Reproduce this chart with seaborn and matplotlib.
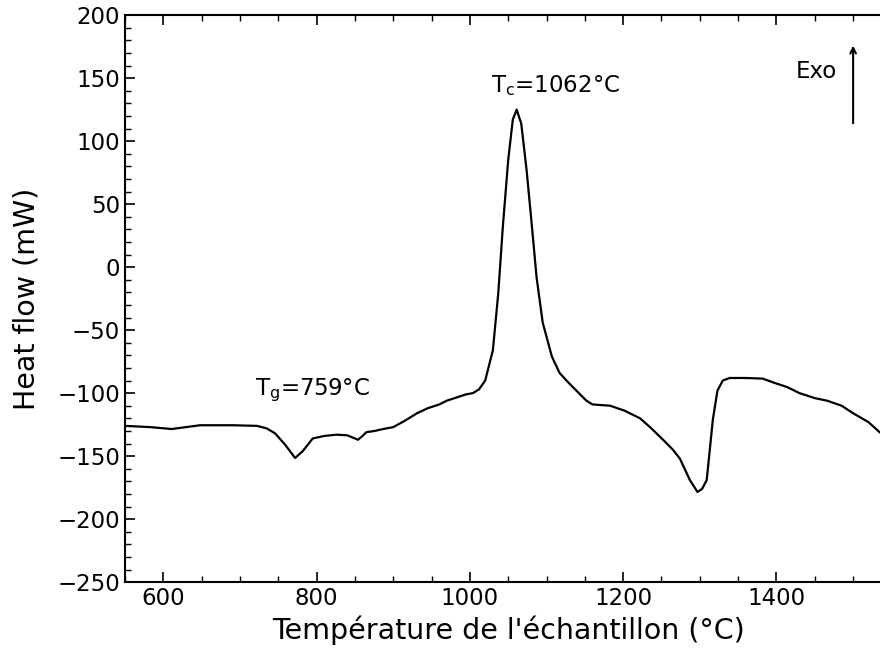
import pandas as pd
import matplotlib.pyplot as plt
import seaborn as sns
from matplotlib.ticker import MultipleLocator

sns.set_style("ticks")
plt.rcParams["font.family"] = ["DejaVu Sans"]
plt.rcParams["text.color"] = "black"
plt.rcParams["axes.labelcolor"] = "black"
plt.rcParams["xtick.color"] = "black"
plt.rcParams["ytick.color"] = "black"
plt.rcParams["axes.edgecolor"] = "black"

# Courbe DSC
temperature = [550, 583, 611, 648, 690, 722, 735, 746, 759, 772, 782, 795, 810,
               826, 840, 854, 860, 865, 876, 887, 900, 915, 931, 945, 960, 970,
               985, 995, 1004, 1012, 1020, 1030, 1037, 1043, 1050, 1056, 1061,
               1067, 1074, 1081, 1087, 1095, 1107, 1117, 1126, 1134, 1152, 1160,
               1183, 1202, 1222, 1235, 1252, 1265, 1274, 1287, 1297, 1303, 1309,
               1317, 1323, 1330, 1339, 1360, 1382, 1398, 1413, 1420, 1430, 1450,
               1466, 1485, 1500, 1520, 1540]
heat_flow = [-126, -127, -128.5, -125.5, -125.5, -126, -128, -132, -141, -151.5,
             -146, -136, -134, -133, -133.5, -137, -134, -131, -130, -128.5,
             -127, -122, -116, -112, -109, -106, -103, -101, -100, -97, -90, -66,
             -21, 32, 85, 117, 125, 114, 77, 32, -8, -44, -71, -84, -90, -95,
             -106, -109, -110, -114, -120, -127, -137, -145, -152, -169, -178.5,
             -176, -169, -121, -98, -90, -88, -88, -88.5, -92, -95, -97, -100,
             -104, -106, -110, -116, -123, -134]

df = pd.DataFrame({"T": temperature, "HF": heat_flow})

fig = plt.figure(figsize=(8.8, 6.57), dpi=100)
ax = fig.add_axes([0.142, 0.114, 0.871, 0.863])
sns.lineplot(data=df, x="T", y="HF", color="black", linewidth=1.6, ax=ax)

ax.set_xlim(550, 1550)
ax.set_ylim(-250, 200)
ax.xaxis.set_major_locator(MultipleLocator(200))
ax.xaxis.set_minor_locator(MultipleLocator(50))
ax.yaxis.set_major_locator(MultipleLocator(50))
ax.yaxis.set_minor_locator(MultipleLocator(10))
ax.tick_params(which="both", direction="in", top=True, right=False, labelsize=16.5)
ax.tick_params(which="major", length=7, width=1.2)
ax.tick_params(which="minor", length=4, width=1)
for s in ax.spines.values():
    s.set_linewidth(1.5)

ax.set_xlabel("Température de l'échantillon (°C)", fontsize=20.5)
ax.set_ylabel("Heat flow (mW)", fontsize=20.5, labelpad=12)

ax.text(1112, 144, r"T$_\mathrm{c}$=1062°C", fontsize=16.5, ha="center", va="center")
ax.text(795, -98, r"T$_\mathrm{g}$=759°C", fontsize=16.5, ha="center", va="center")
ax.text(1452, 155, "Exo", fontsize=16.5, ha="center", va="center")
ax.annotate("", xy=(1500, 178), xytext=(1500, 112),
            arrowprops=dict(arrowstyle="->", color="black", lw=1.5))

plt.savefig("out.png", dpi=100)
